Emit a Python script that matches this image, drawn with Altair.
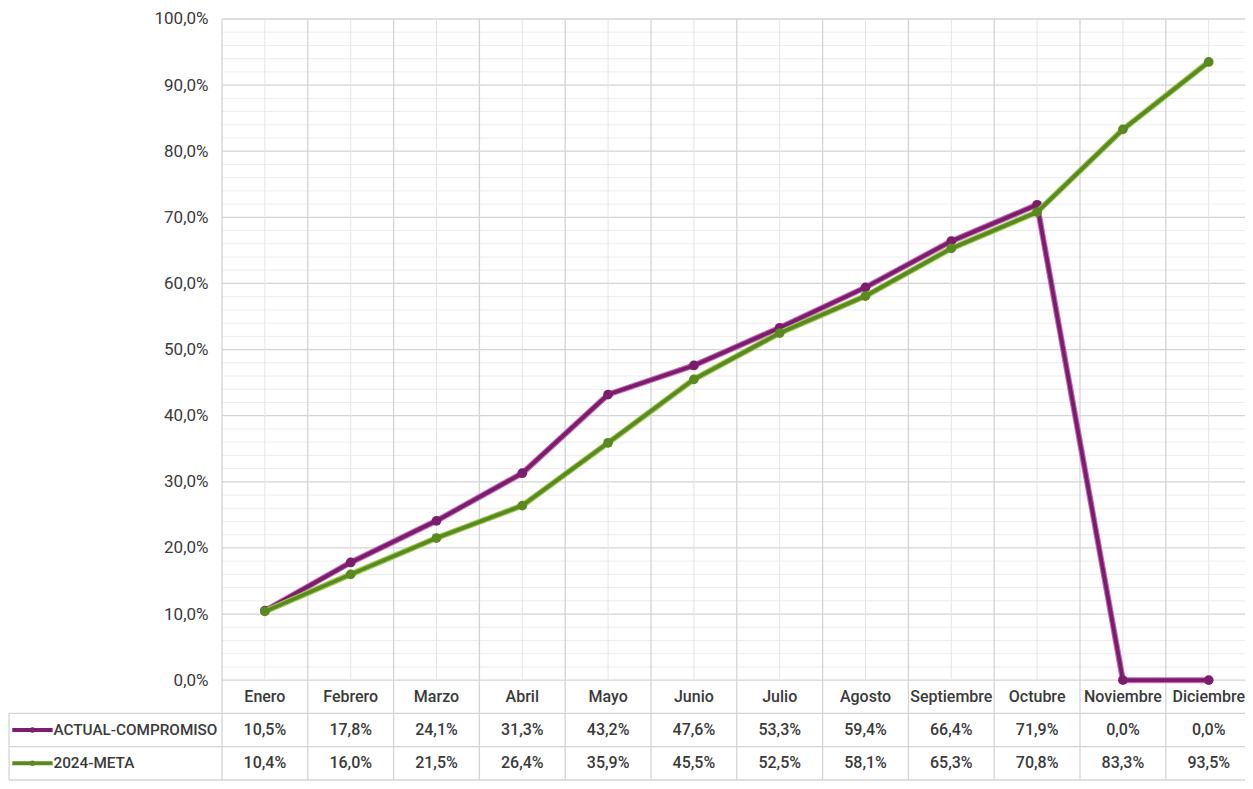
import altair as alt
import pandas as pd

months = ["Enero", "Febrero", "Marzo", "Abril", "Mayo", "Junio", "Julio",
          "Agosto", "Septiembre", "Octubre", "Noviembre", "Diciembre"]
actual = [10.5, 17.8, 24.1, 31.3, 43.2, 47.6, 53.3, 59.4, 66.4, 71.9, 0.0, 0.0]
meta = [10.4, 16.0, 21.5, 26.4, 35.9, 45.5, 52.5, 58.1, 65.3, 70.8, 83.3, 93.5]
series = ["ACTUAL-COMPROMISO", "2024-META"]
y_ticks = [0, 10, 20, 30, 40, 50, 60, 70, 80, 90, 100]

COLORS = ["#7B1D6C", "#5A8A1F"]
EDGES = ["#C26AB4", "#9CC954"]
FONT = "Roboto, Liberation Sans Narrow, sans-serif"
TXT = "#3a3a3a"

# layout (data units)
XMIN, XMAX = -2.994, 11.423
YMIN, YMAX = -15.25, 101.66
ROW = 5.033
W, H = 1237, 773

xs = alt.Scale(domain=[XMIN, XMAX], nice=False, zero=False)
ys = alt.Scale(domain=[YMIN, YMAX], nice=False, zero=False)
yaxis = alt.Axis(values=y_ticks, labelExpr="replace(format(datum.value, '.1f'), '.', ',') + '%'",
                 offset=-(W * (-0.5 - XMIN) / (XMAX - XMIN)), domain=False, ticks=False, grid=False,
                 labelPadding=14, labelFont=FONT, labelFontSize=17, labelColor=TXT, title=None)


def X(f):
    return alt.X(f, type="quantitative", scale=xs, axis=None)


def Y(f):
    return alt.Y(f, type="quantitative", scale=ys, axis=yaxis)


# grid data
n = len(months)
minor_h = pd.DataFrame({"y": [v for v in range(0, 101, 2) if v % 10], "x0": -0.5, "x1": XMAX})
major_h = pd.DataFrame({"y": y_ticks, "x0": -0.5, "x1": XMAX})
minor_v = pd.DataFrame({"x": list(range(n)), "y0": 0, "y1": 100})
major_v = pd.DataFrame({"x": [i - 0.5 for i in range(n + 1)], "y0": -3 * ROW, "y1": 100})
table_h = pd.DataFrame({"y": [-ROW, -2 * ROW, -3 * ROW], "x0": XMIN + 0.01, "x1": XMAX})
table_l = pd.DataFrame({"x": [XMIN + 0.012], "y0": [-3 * ROW], "y1": [-ROW]})

rows = []
for s, vals in zip(series, [actual, meta]):
    for i, (m, v) in enumerate(zip(months, vals)):
        rows.append({"idx": i, "month": m, "series": s, "value": v,
                     "label": f"{v:.1f}".replace(".", ",") + "%"})
df = pd.DataFrame(rows)
df["row_y"] = df["series"].map({series[0]: -1.5 * ROW, series[1]: -2.5 * ROW})

hdr = pd.DataFrame({"idx": list(range(n)), "month": months, "y": -0.5 * ROW})
keys = pd.DataFrame({"series": series, "y": [-1.5 * ROW, -2.5 * ROW],
                     "x0": XMIN + 0.05, "x1": XMIN + 0.52, "xm": XMIN + 0.285, "xt": XMIN + 0.53})

GRID_MINOR = "#ececec"
GRID_MAJOR = "#d4d4d4"

l_minor_h = alt.Chart(minor_h).mark_rule(color=GRID_MINOR, strokeWidth=1).encode(x=X("x0"), x2="x1", y=Y("y"))
l_major_h = alt.Chart(major_h).mark_rule(color=GRID_MAJOR, strokeWidth=1.3).encode(x=X("x0"), x2="x1", y=Y("y"))
l_minor_v = alt.Chart(minor_v).mark_rule(color="#e4e4e4", strokeWidth=1).encode(x=X("x"), y=Y("y0"), y2="y1")
l_major_v = alt.Chart(major_v).mark_rule(color=GRID_MAJOR, strokeWidth=1.3).encode(x=X("x"), y=Y("y0"), y2="y1")
l_table_h = alt.Chart(table_h).mark_rule(color=GRID_MAJOR, strokeWidth=1.3).encode(x=X("x0"), x2="x1", y=Y("y"))
l_table_l = alt.Chart(table_l).mark_rule(color=GRID_MAJOR, strokeWidth=1.3).encode(x=X("x"), y=Y("y0"), y2="y1")

layers = [l_minor_h, l_major_h, l_minor_v, l_major_v, l_table_h, l_table_l]

for k, s in enumerate(series):
    sub = df[df["series"] == s]
    base = alt.Chart(sub)
    layers.append(base.mark_line(strokeWidth=6, color=EDGES[k]).encode(x=X("idx"), y=Y("value")))
    layers.append(base.mark_line(strokeWidth=3.8, color=COLORS[k]).encode(x=X("idx"), y=Y("value")))
    layers.append(base.mark_point(filled=True, shape="circle", size=95, opacity=1, color=COLORS[k])
                  .encode(x=X("idx"), y=Y("value")))

text_props = dict(font=FONT, fontSize=16, fontWeight=500, color=TXT, baseline="middle")
layers.append(alt.Chart(hdr).mark_text(align="center", **text_props)
              .encode(x=X("idx"), y=Y("y"), text="month:N"))
layers.append(alt.Chart(df).mark_text(align="center", **text_props)
              .encode(x=X("idx"), y=Y("row_y"), text="label:N"))

for k, s in enumerate(series):
    kb = alt.Chart(keys[keys["series"] == s])
    layers.append(kb.mark_rule(strokeWidth=4, color=COLORS[k]).encode(x=X("x0"), x2="x1", y=Y("y")))
    layers.append(kb.mark_point(filled=True, shape="circle", size=30, opacity=1, color=COLORS[k])
                  .encode(x=X("xm"), y=Y("y")))
key_props = dict(text_props, fontSize=15.3)
layers.append(alt.Chart(keys).mark_text(align="left", **key_props)
              .encode(x=X("xt"), y=Y("y"), text="series:N"))

chart = alt.layer(*layers).properties(
    width=W, height=H, autosize=alt.AutoSizeParams(type="none"), padding=0
).configure_view(stroke=None)

chart.save("out.html", embed_options={"renderer": "svg", "actions": False})
